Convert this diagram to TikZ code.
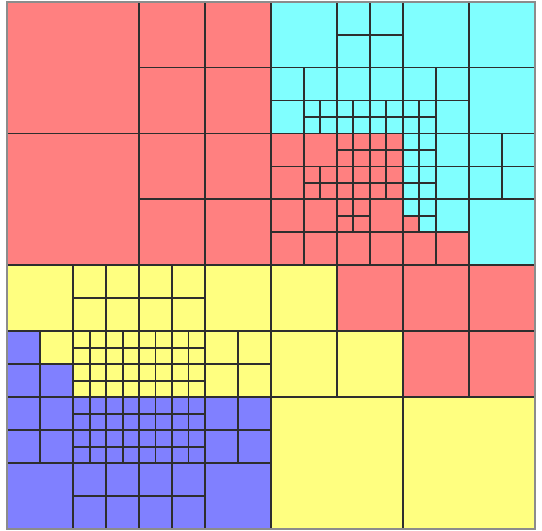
\documentclass[tikz,border=0pt]{standalone}
\usepackage{tikz}
\definecolor{cellred}{HTML}{FF8080}
\definecolor{cellcyan}{HTML}{80FFFF}
\definecolor{cellyellow}{HTML}{FFFF80}
\definecolor{cellblue}{HTML}{8080FF}

\begin{document}
\begin{tikzpicture}[x=0.5cm,y=-0.5cm,
  cell/.style={draw=black!82,line width=1.6pt},
  rim/.style={draw=black!45,line width=1.6pt}]
\useasboundingbox (-0.44,-0.10) rectangle (32.45,32.12);
% red corner, top left
\foreach \x/\y/\s in {0/0/8,0/8/8}
  \draw[cell,fill=cellred] (\x,\y) rectangle ++(\s,\s);
\foreach \x in {8,12}
  \foreach \y in {0,4,8,12}
    \draw[cell,fill=cellred] (\x,\y) rectangle ++(4,4);
% cyan region, top right
\foreach \x/\y/\s in {16/0/4,24/0/4,28/0/4,28/4/4,28/12/4,
    20/0/2,22/0/2,20/2/2,22/2/2,16/4/2,18/4/2,16/6/2,20/4/2,22/4/2,
    24/4/2,26/4/2,26/6/2,26/8/2,26/10/2,28/8/2,30/8/2,28/10/2,30/10/2,
    26/12/2,24/12/1,25/12/1,25/13/1}
  \draw[cell,fill=cellcyan] (\x,\y) rectangle ++(\s,\s);
\foreach \x in {18,...,25}
  \foreach \y in {6,7}
    \draw[cell,fill=cellcyan] (\x,\y) rectangle ++(1,1);
\foreach \x in {24,25}
  \foreach \y in {8,...,11}
    \draw[cell,fill=cellcyan] (\x,\y) rectangle ++(1,1);
% red pocket inside the cyan quadrant
\foreach \x/\y/\s in {16/8/2,18/8/2,16/10/2,16/12/2,18/12/2,16/14/2,
    18/14/2,22/12/2,20/14/2,22/14/2,24/14/2,26/14/2,
    18/10/1,19/10/1,18/11/1,19/11/1,20/12/1,21/12/1,20/13/1,21/13/1,24/13/1}
  \draw[cell,fill=cellred] (\x,\y) rectangle ++(\s,\s);
\foreach \x in {20,...,23}
  \foreach \y in {8,...,11}
    \draw[cell,fill=cellred] (\x,\y) rectangle ++(1,1);
% yellow band, bottom left
\foreach \x/\y/\s in {0/16/4,12/16/4,4/16/2,6/16/2,4/18/2,6/18/2,
    8/16/2,10/16/2,8/18/2,10/18/2,2/20/2,12/20/2,14/20/2,12/22/2,14/22/2}
  \draw[cell,fill=cellyellow] (\x,\y) rectangle ++(\s,\s);
\foreach \x in {4,...,11}
  \foreach \y in {20,...,23}
    \draw[cell,fill=cellyellow] (\x,\y) rectangle ++(1,1);
% blue corner
\foreach \x/\y/\s in {0/28/4,12/28/4,0/20/2,0/22/2,2/22/2,0/24/2,2/24/2,
    0/26/2,2/26/2,12/24/2,14/24/2,12/26/2,14/26/2,4/28/2,6/28/2,4/30/2,
    6/30/2,8/28/2,10/28/2,8/30/2,10/30/2}
  \draw[cell,fill=cellblue] (\x,\y) rectangle ++(\s,\s);
\foreach \x in {4,...,11}
  \foreach \y in {24,...,27}
    \draw[cell,fill=cellblue] (\x,\y) rectangle ++(1,1);
% bottom right
\foreach \x/\y/\s in {16/16/4,16/20/4,20/20/4,16/24/8,24/24/8}
  \draw[cell,fill=cellyellow] (\x,\y) rectangle ++(\s,\s);
\foreach \x/\y in {20/16,24/16,28/16,24/20,28/20}
  \draw[cell,fill=cellred] (\x,\y) rectangle ++(4,4);
\draw[rim] (0,0) rectangle (32,32);
\end{tikzpicture}
\end{document}
